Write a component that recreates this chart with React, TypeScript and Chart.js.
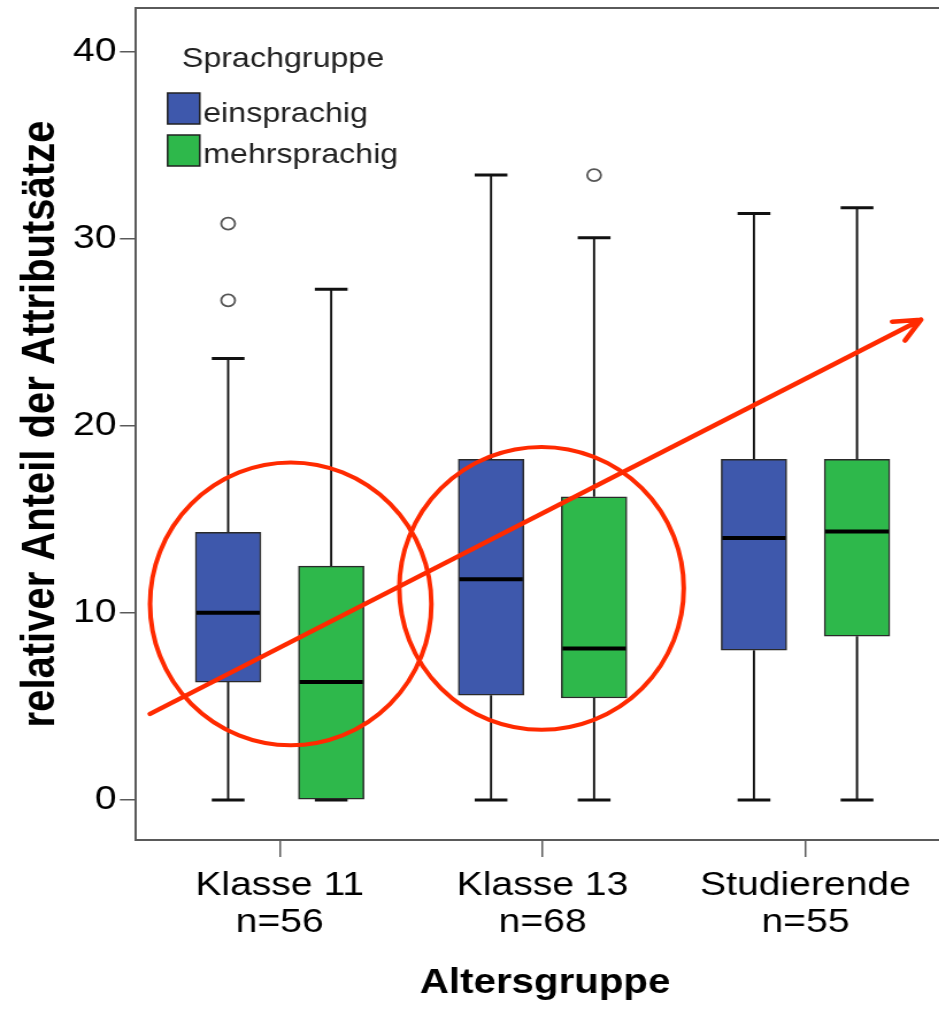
import React, { useEffect, useRef } from 'react';
import { Chart, registerables } from 'chart.js';

Chart.register(...registerables);

// ---------- data ----------
const categories = ['Klasse 11', 'Klasse 13', 'Studierende'];
const sampleSizes = ['n=56', 'n=68', 'n=55'];
const groupLabels = ['einsprachig', 'mehrsprachig'];
const legendTitle = 'Sprachgruppe';
const yTicks = [0, 10, 20, 30, 40];
const xTicks = [0, 1, 2];

// einsprachig: [Klasse 11, Klasse 13, Studierende]
const einWhiskerLow = [0, 0, 0];
const einQ1 = [6.3, 5.6, 8.0];
const einMedian = [10.0, 11.8, 14.0];
const einQ3 = [14.3, 18.2, 18.2];
const einWhiskerHigh = [23.6, 33.4, 31.35];
const einOutliers = [[30.8, 26.7], [], []];

// mehrsprachig: [Klasse 11, Klasse 13, Studierende]
const mehrWhiskerLow = [0, 0, 0];
const mehrQ1 = [0, 5.45, 8.75];
const mehrMedian = [6.3, 8.1, 14.35];
const mehrQ3 = [12.5, 16.2, 18.2];
const mehrWhiskerHigh = [27.3, 30.05, 31.65];
const mehrOutliers = [[], [33.4], []];

// red annotations (data units)
const circleCenterX = [0.042, 0.996];
const circleCenterY = [10.48, 11.31];
const circleRadiusX = [0.535, 0.541];
const circleRadiusY = [7.56, 7.56];
const arrowX = [-0.493, 2.439];
const arrowY = [4.6, 25.67];

// ---------- styling constants ----------
const FONT = '"Liberation Sans", Arial, Helvetica, sans-serif';
const BLUE = '#3E58AC';
const GREEN = '#2EB84B';
const AXIS = '#5a5a5a';
const RED = '#FF2A00';
const OFFSET = 0.196;
const BOX_PX = 57;
const STRETCH = 939 / 816.9; // horizontal stretch of the reference
const CANVAS_W = 838;
const CANVAS_H = 1009;

const groups = [
  { label: groupLabels[0], color: BLUE, off: -OFFSET, lo: einWhiskerLow, q1: einQ1, med: einMedian, q3: einQ3, hi: einWhiskerHigh, out: einOutliers },
  { label: groupLabels[1], color: GREEN, off: OFFSET, lo: mehrWhiskerLow, q1: mehrQ1, med: mehrMedian, q3: mehrQ3, hi: mehrWhiskerHigh, out: mehrOutliers },
];

const boxPlugin = {
  id: 'boxExtras',
  beforeDatasetsDraw(chart: any) {
    const { ctx, scales } = chart;
    const x = scales.x;
    const y = scales.y;
    ctx.save();
    ctx.strokeStyle = '#111';
    groups.forEach((g) => {
      categories.forEach((_, i) => {
        const xc = x.getPixelForValue(i + g.off);
        const cap = BOX_PX / 4;
        ctx.lineWidth = 1.9;
        ctx.beginPath();
        ctx.moveTo(xc, y.getPixelForValue(g.lo[i]));
        ctx.lineTo(xc, y.getPixelForValue(g.q1[i]));
        ctx.moveTo(xc, y.getPixelForValue(g.q3[i]));
        ctx.lineTo(xc, y.getPixelForValue(g.hi[i]));
        ctx.stroke();
        ctx.lineWidth = 3;
        ctx.beginPath();
        ctx.moveTo(xc - cap, y.getPixelForValue(g.lo[i]));
        ctx.lineTo(xc + cap, y.getPixelForValue(g.lo[i]));
        ctx.moveTo(xc - cap, y.getPixelForValue(g.hi[i]));
        ctx.lineTo(xc + cap, y.getPixelForValue(g.hi[i]));
        ctx.stroke();
      });
    });
    ctx.restore();
  },
  afterDatasetsDraw(chart: any) {
    const { ctx, scales } = chart;
    const x = scales.x;
    const y = scales.y;
    ctx.save();
    ctx.strokeStyle = '#000';
    ctx.lineWidth = 4;
    groups.forEach((g) => {
      categories.forEach((_, i) => {
        const xc = x.getPixelForValue(i + g.off);
        const ym = y.getPixelForValue(g.med[i]);
        ctx.beginPath();
        ctx.moveTo(xc - BOX_PX / 2 + 1, ym);
        ctx.lineTo(xc + BOX_PX / 2 - 1, ym);
        ctx.stroke();
      });
    });
    ctx.restore();
  },
  afterDraw(chart: any) {
    const { ctx, scales, chartArea } = chart;
    const x = scales.x;
    const y = scales.y;
    ctx.save();
    // frame top & right
    ctx.strokeStyle = AXIS;
    ctx.lineWidth = 2;
    ctx.beginPath();
    ctx.moveTo(chartArea.left, chartArea.top);
    ctx.lineTo(chartArea.right, chartArea.top);
    ctx.lineTo(chartArea.right, chartArea.bottom);
    ctx.stroke();

    // legend
    const L = chartArea.left;
    ctx.fillStyle = '#222';
    ctx.font = `28px ${FONT}`;
    ctx.textAlign = 'left';
    ctx.textBaseline = 'alphabetic';
    ctx.fillText(legendTitle, L + 40, 67);
    const swTops = [93, 135];
    const baselines = [122, 163];
    groups.forEach((g, k) => {
      ctx.fillStyle = g.color;
      ctx.fillRect(L + 27.5, swTops[k], 28, 31);
      ctx.strokeStyle = '#222';
      ctx.lineWidth = 1.5;
      ctx.strokeRect(L + 27.5, swTops[k], 28, 31);
      ctx.fillStyle = '#222';
      ctx.fillText(g.label, L + 58.5, baselines[k]);
    });

    // red annotations
    ctx.strokeStyle = RED;
    ctx.lineWidth = 4;
    circleCenterX.forEach((cx, k) => {
      const px = x.getPixelForValue(cx);
      const py = y.getPixelForValue(circleCenterY[k]);
      const rx = Math.abs(x.getPixelForValue(cx + circleRadiusX[k]) - px);
      const ry = Math.abs(y.getPixelForValue(circleCenterY[k] + circleRadiusY[k]) - py);
      ctx.beginPath();
      ctx.ellipse(px, py, rx, ry, 0, 0, Math.PI * 2);
      ctx.stroke();
    });
    const x0 = x.getPixelForValue(arrowX[0]);
    const y0 = y.getPixelForValue(arrowY[0]);
    const x1 = x.getPixelForValue(arrowX[1]);
    const y1 = y.getPixelForValue(arrowY[1]);
    ctx.lineWidth = 4.5;
    ctx.lineCap = 'round';
    ctx.beginPath();
    ctx.moveTo(x0, y0);
    ctx.lineTo(x1, y1);
    const back = Math.atan2(y0 - y1, x0 - x1);
    const head = 25;
    const ang = (26 * Math.PI) / 180;
    ctx.moveTo(x1, y1);
    ctx.lineTo(x1 + head * Math.cos(back + ang), y1 + head * Math.sin(back + ang));
    ctx.moveTo(x1, y1);
    ctx.lineTo(x1 + head * Math.cos(back - ang), y1 + head * Math.sin(back - ang));
    ctx.stroke();
    ctx.restore();
  },
};

export default function App() {
  const canvasRef = useRef<HTMLCanvasElement | null>(null);

  useEffect(() => {
    if (!canvasRef.current) return;
    const outlierPoints: { x: number; y: number }[] = [];
    groups.forEach((g) => {
      g.out.forEach((vals, i) => vals.forEach((v) => outlierPoints.push({ x: i + g.off, y: v })));
    });

    const chart = new Chart(canvasRef.current, {
      type: 'bar',
      data: {
        datasets: [
          ...groups.map((g) => ({
            type: 'bar' as const,
            label: g.label,
            data: categories.map((_, i) => ({ x: i + g.off, y: [g.q1[i], g.q3[i]] })) as any,
            backgroundColor: g.color,
            borderColor: '#2a2a2a',
            borderWidth: 1.5,
            borderSkipped: false as any,
            barThickness: BOX_PX,
            grouped: false,
          })),
          {
            type: 'scatter' as const,
            label: 'Ausreißer',
            data: outlierPoints as any,
            pointRadius: 6,
            pointBackgroundColor: '#fff',
            pointBorderColor: '#555',
            pointBorderWidth: 1.8,
            showLine: false,
          } as any,
        ],
      },
      options: {
        animation: false,
        responsive: true,
        maintainAspectRatio: false,
        layout: { padding: { top: 8, left: 0, right: 0, bottom: 0 } },
        plugins: {
          legend: { display: false },
          tooltip: { enabled: false },
        },
        scales: {
          x: {
            type: 'linear',
            offset: false,
            min: -0.5465,
            max: 2.566,
            afterBuildTicks: (scale: any) => {
              scale.ticks = xTicks.map((v) => ({ value: v }));
            },
            afterFit: (scale: any) => {
              scale.height = 169;
              scale.paddingLeft = 0;
              scale.paddingRight = 0;
            },
            grid: { offset: false, drawOnChartArea: false, drawTicks: true, tickLength: 17, color: AXIS, lineWidth: 1.5 },
            border: { display: true, color: AXIS, width: 2 },
            ticks: {
              autoSkip: false,
              maxRotation: 0,
              minRotation: 0,
              padding: 10,
              color: '#000',
              font: { family: FONT, size: 34, lineHeight: 1.09 },
              callback: (value: any) => {
                const i = Math.round(Number(value));
                return [categories[i], sampleSizes[i]];
              },
            },
            title: {
              display: true,
              text: 'Altersgruppe',
              color: '#000',
              font: { family: FONT, size: 35, weight: 'bold' },
              padding: { top: 0, bottom: 5 },
            },
          },
          y: {
            type: 'linear',
            min: -2.14,
            max: 42.33,
            afterBuildTicks: (scale: any) => {
              scale.ticks = yTicks.map((v) => ({ value: v }));
            },
            afterFit: (scale: any) => {
              scale.width = 118.3;
              scale.paddingTop = 0;
              scale.paddingBottom = 0;
            },
            grid: { drawOnChartArea: false, drawTicks: true, tickLength: 14, color: AXIS, lineWidth: 1.5 },
            border: { display: true, color: AXIS, width: 2 },
            ticks: {
              padding: 3,
              color: '#000',
              font: { family: FONT, size: 34 },
            },
            title: {
              display: true,
              text: 'relativer Anteil der Attributsätze',
              color: '#000',
              font: { family: FONT, size: 40, weight: 'bold' },
              padding: { top: 12, bottom: 0 },
            },
          },
        },
      } as any,
      plugins: [boxPlugin],
    });
    return () => chart.destroy();
  }, []);

  return (
    <div style={{ position: 'fixed', left: 0, top: 0, width: 939, height: CANVAS_H, overflow: 'hidden', background: '#fff' }}>
      <div
        style={{
          position: 'absolute',
          left: 0,
          top: 0,
          width: CANVAS_W,
          height: CANVAS_H,
          transform: `scaleX(${STRETCH})`,
          transformOrigin: '0 0',
        }}
      >
        <canvas ref={canvasRef} />
      </div>
    </div>
  );
}
